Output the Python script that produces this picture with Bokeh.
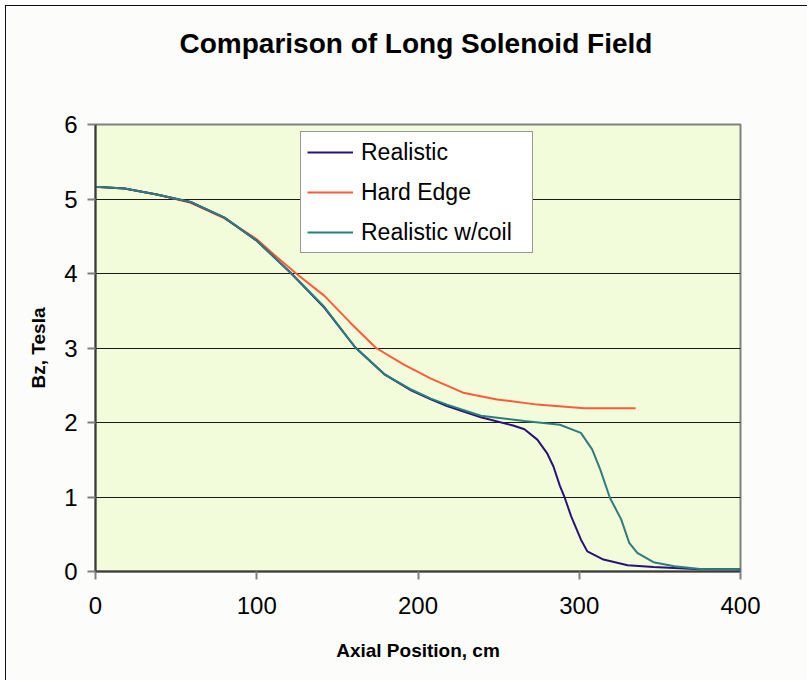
from bokeh.plotting import figure
from bokeh.models import Range1d, FixedTicker, Legend, LegendItem, Title
from bokeh.embed import file_html
from bokeh.resources import INLINE

# ---- data ----
realistic_x = [0, 3, 18, 38, 59, 80, 100, 121, 142, 161, 179, 195, 208, 218, 239, 259, 266,
               274, 280, 284, 288, 291, 295, 301, 305, 315, 330, 346, 375, 400]
realistic_y = [5.16, 5.16, 5.14, 5.06, 4.96, 4.75, 4.44, 4.01, 3.54, 3.01, 2.65, 2.44, 2.31, 2.22,
               2.07, 1.96, 1.91, 1.77, 1.59, 1.41, 1.15, 0.99, 0.74, 0.43, 0.27, 0.16, 0.085,
               0.06, 0.03, 0.03]

hard_x = [0, 18, 38, 59, 80, 100, 113, 125, 142, 158, 174, 191, 208, 228, 249, 274, 303, 335]
hard_y = [5.16, 5.14, 5.06, 4.95, 4.74, 4.46, 4.21, 3.99, 3.70, 3.34, 3.00, 2.78, 2.59, 2.40,
          2.31, 2.24, 2.19, 2.19]

coil_x = [0, 3, 18, 38, 59, 80, 100, 121, 142, 161, 179, 195, 208, 218, 239, 266, 288, 301,
          308, 313, 319, 326, 331, 336, 346, 359, 375, 400]
coil_y = [5.16, 5.16, 5.14, 5.06, 4.96, 4.75, 4.44, 4.01, 3.55, 3.01, 2.65, 2.45, 2.32, 2.24,
          2.09, 2.02, 1.97, 1.86, 1.64, 1.37, 0.99, 0.70, 0.385, 0.25, 0.125, 0.07, 0.035, 0.03]

x_ticks = [0, 100, 200, 300, 400]
y_ticks = [0, 1, 2, 3, 4, 5, 6]

title_text = "Comparison of Long Solenoid Field"
series_names = ["Realistic", "Hard Edge", "Realistic w/coil"]
series_colors = ["#28127A", "#FF5A3C", "#2E7C7C"]

FONT = "Liberation Sans"

p = figure(width=802, height=675, output_backend="svg", toolbar_location=None,
           x_range=Range1d(0, 400), y_range=Range1d(0, 6),
           min_border_left=89, min_border_right=68, min_border_top=118, min_border_bottom=110)
p.styles = {"margin-left": "5px", "margin-top": "5px",
            "border-left": "1px solid #111", "border-top": "1px solid #111",
            "border-right": "none", "border-bottom": "none"}

p.background_fill_color = "#F3FCDA"
p.border_fill_color = "#FCFCFA"
p.outline_line_color = "#808080"
p.outline_line_width = 2

# spacer between frame and title (closest to the frame), then the chart title
spacer = Title(text=" ", text_font_size="1px", standoff=63)
p.add_layout(spacer, "above")
main_title = Title(text=title_text, text_font=FONT, text_font_size="28px",
                   text_font_style="bold", text_color="#000000", align="left",
                   standoff=0, offset=84)
p.add_layout(main_title, "above")

# lines (draw order: hard edge, realistic, coil)
r_hard = p.line(hard_x, hard_y, line_color=series_colors[1], line_width=2)
r_real = p.line(realistic_x, realistic_y, line_color=series_colors[0], line_width=2)
r_coil = p.line(coil_x, coil_y, line_color=series_colors[2], line_width=2)

legend = Legend(items=[LegendItem(label=series_names[0], renderers=[r_real]),
                       LegendItem(label=series_names[1], renderers=[r_hard]),
                       LegendItem(label=series_names[2], renderers=[r_coil])],
                location=(205, 318))
legend.label_text_font = FONT
legend.label_text_font_size = "23px"
legend.label_text_color = "#000000"
legend.glyph_width = 46
legend.glyph_height = 28
legend.label_height = 28
legend.label_width = 165
legend.label_standoff = 8
legend.spacing = 12
legend.padding = 6
legend.margin = 0
legend.border_line_color = "#333333"
legend.border_line_width = 1
legend.background_fill_color = "#FFFFFF"
legend.background_fill_alpha = 1.0
p.add_layout(legend, "center")

# axes
p.xaxis.ticker = FixedTicker(ticks=x_ticks)
p.yaxis.ticker = FixedTicker(ticks=y_ticks)
for ax in (p.xaxis[0], p.yaxis[0]):
    ax.axis_line_color = "#3A3A3A"
    ax.axis_line_width = 2
    ax.major_tick_line_color = "#808080"
    ax.major_tick_line_width = 2
    ax.major_tick_out = 8
    ax.major_tick_in = 0
    ax.minor_tick_out = 0
    ax.minor_tick_in = 0
    ax.major_label_text_font = FONT
    ax.major_label_text_font_size = "24px"
    ax.major_label_text_color = "#000000"
    ax.axis_label_text_font = FONT
    ax.axis_label_text_font_size = "19px"
    ax.axis_label_text_font_style = "bold"
    ax.axis_label_text_color = "#000000"

p.xaxis.axis_label = "Axial Position, cm"
p.yaxis.axis_label = "Bz, Tesla"
p.xaxis.major_label_standoff = 17
p.yaxis.major_label_standoff = 10
p.xaxis.axis_label_standoff = 23
p.yaxis.axis_label_standoff = 12

p.xgrid.grid_line_color = None
p.ygrid.grid_line_color = "#1A1A1A"
p.ygrid.grid_line_width = 1

open("out.html", "w").write(file_html(p, INLINE))
